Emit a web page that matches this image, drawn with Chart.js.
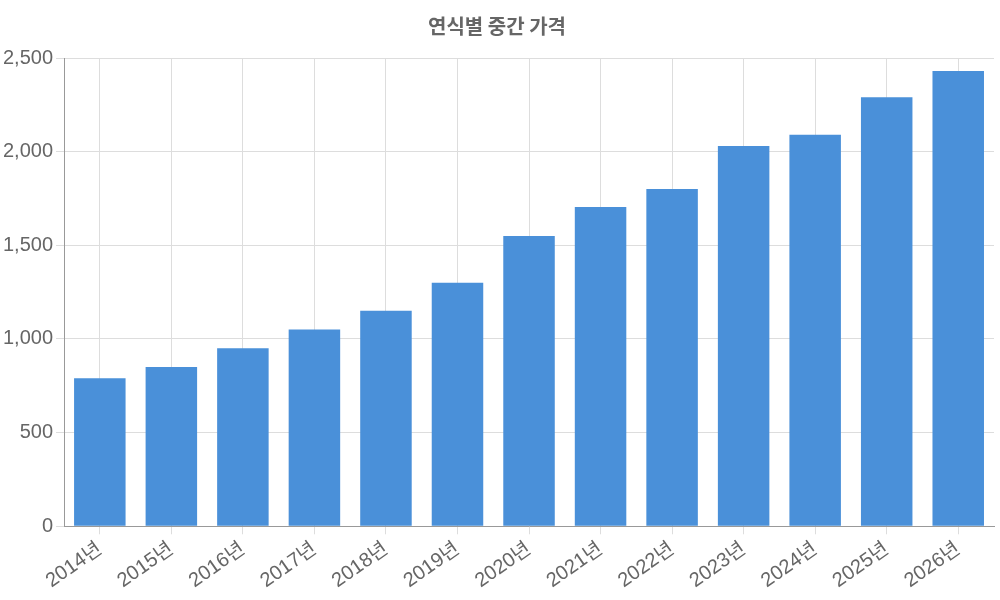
<!DOCTYPE html>
<html><head><meta charset="utf-8">
<script src="https://cdn.jsdelivr.net/npm/chart.js@4"></script>
<style>html,body{margin:0;padding:0;background:#fff}#w{width:1000px;height:600px}</style>
</head><body><div id="w"><canvas id="c"></canvas></div>
<script>
const categories = ["2014년","2015년","2016년","2017년","2018년","2019년","2020년","2021년","2022년","2023년","2024년","2025년","2026년"];
const medianPrices = [790,850,950,1050,1150,1300,1550,1705,1800,2030,2090,2290,2430];
const titleText = "연식별 중간 가격";
new Chart(document.getElementById('c'), {
  type: 'bar',
  data: { labels: categories, datasets: [{ data: medianPrices, backgroundColor: '#4a90d9' }] },
  options: {
    responsive: true, maintainAspectRatio: false, animation: false,
    layout: { padding: { right: 6, bottom: 4 } },
    plugins: {
      legend: { display: false },
      title: { display: true, text: titleText, color: '#666', font: { family: "'Noto Sans CJK KR', sans-serif", size: 20, weight: 'bold' }, padding: { top: 14, bottom: 20 } }
    },
    scales: {
      x: { grid: { color: '#ddd', offset: false, tickLength: 8 }, border: { color: '#999' },
           ticks: { color: '#666', maxRotation: 35, minRotation: 35, font: { family: "'Liberation Sans','Noto Sans CJK KR',sans-serif", size: 20 } } },
      y: { min: 0, max: 2500, grid: { color: '#ddd', tickLength: 8 }, border: { color: '#999' },
           ticks: { stepSize: 500, color: '#666', font: { family: "'Liberation Sans',sans-serif", size: 20 } } }
    }
  }
});
</script></body></html>
